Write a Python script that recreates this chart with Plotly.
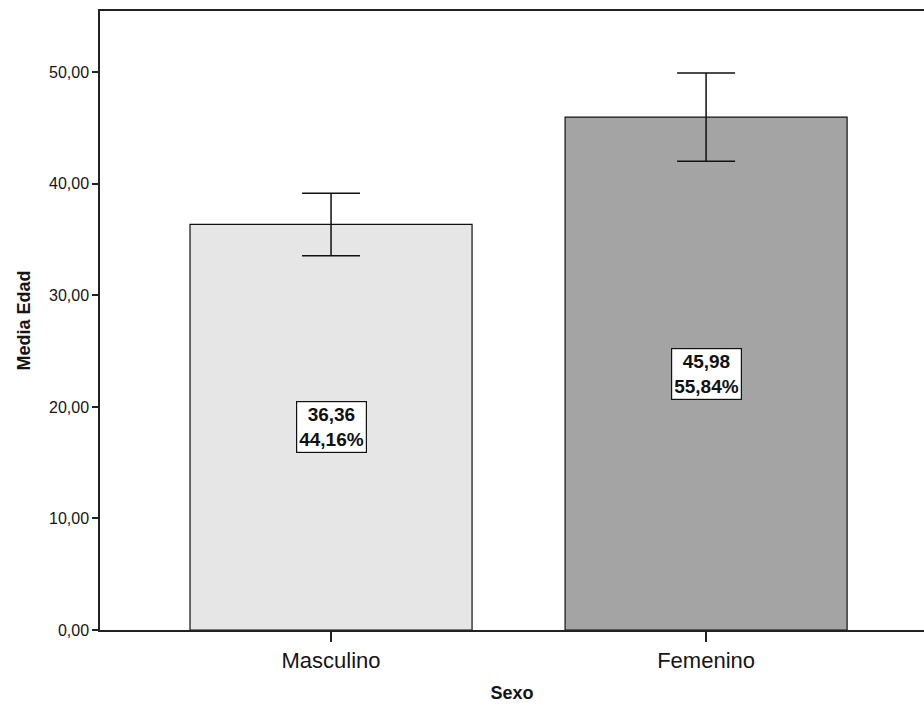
import plotly.graph_objects as go

# Mean age by sex with 95% CI error bars
categorias = ["Masculino", "Femenino"]
media_edad = [36.36, 45.98]
porcentaje = [44.16, 55.84]
ic_error = [2.8, 3.95]
colores = ["#e6e6e6", "#a4a4a4"]

fig = go.Figure()
fig.add_trace(go.Bar(
    x=[0, 1],
    y=media_edad,
    width=0.752,
    marker=dict(color=colores, line=dict(color="#111111", width=1.2)),
    error_y=dict(type="data", array=ic_error, visible=True,
                 color="#111111", thickness=1.5, width=29),
    hoverinfo="skip",
))

def fmt(v):
    return f"{v:.2f}".replace(".", ",")

for i, (m, p) in enumerate(zip(media_edad, porcentaje)):
    fig.add_annotation(
        x=i, y=m / 2, xref="x", yref="y",
        text=f"<b>{fmt(m)}<br>{fmt(p)}%</b>",
        showarrow=False,
        font=dict(family="Liberation Sans Narrow, Arial Narrow, Liberation Sans", size=19, color="#111111"),
        bgcolor="white", bordercolor="#111111", borderwidth=1.2, borderpad=2,
    )

fig.update_layout(
    width=924, height=714,
    margin=dict(l=100, r=0, t=11, b=84),
    paper_bgcolor="white", plot_bgcolor="white",
    separators=",.",
    showlegend=False,
    font=dict(family="Liberation Sans, Arial", color="#151515"),
    xaxis=dict(
        range=[-0.616, 1.581],
        tickmode="array", tickvals=[0, 1], ticktext=categorias,
        ticks="outside", ticklen=10, tickwidth=1.5, tickcolor="#222222",
        tickfont=dict(size=22),
        showline=True, linecolor="#222222", linewidth=1.5, mirror=True,
        showgrid=False, zeroline=False,
        title=dict(text="<b>Sexo</b>", font=dict(size=18), standoff=14),
    ),
    yaxis=dict(
        range=[0, 55.5],
        tickmode="array", tickvals=[0, 10, 20, 30, 40, 50],
        tickformat=".2f",
        ticks="outside", ticklen=6, tickwidth=1.5, tickcolor="#222222",
        tickfont=dict(size=16),
        showline=True, linecolor="#222222", linewidth=1.5,
        showgrid=False, zeroline=False,
        title=dict(text="<b>Media Edad</b>", font=dict(size=18), standoff=14),
    ),
)

fig.write_html("out.html")
